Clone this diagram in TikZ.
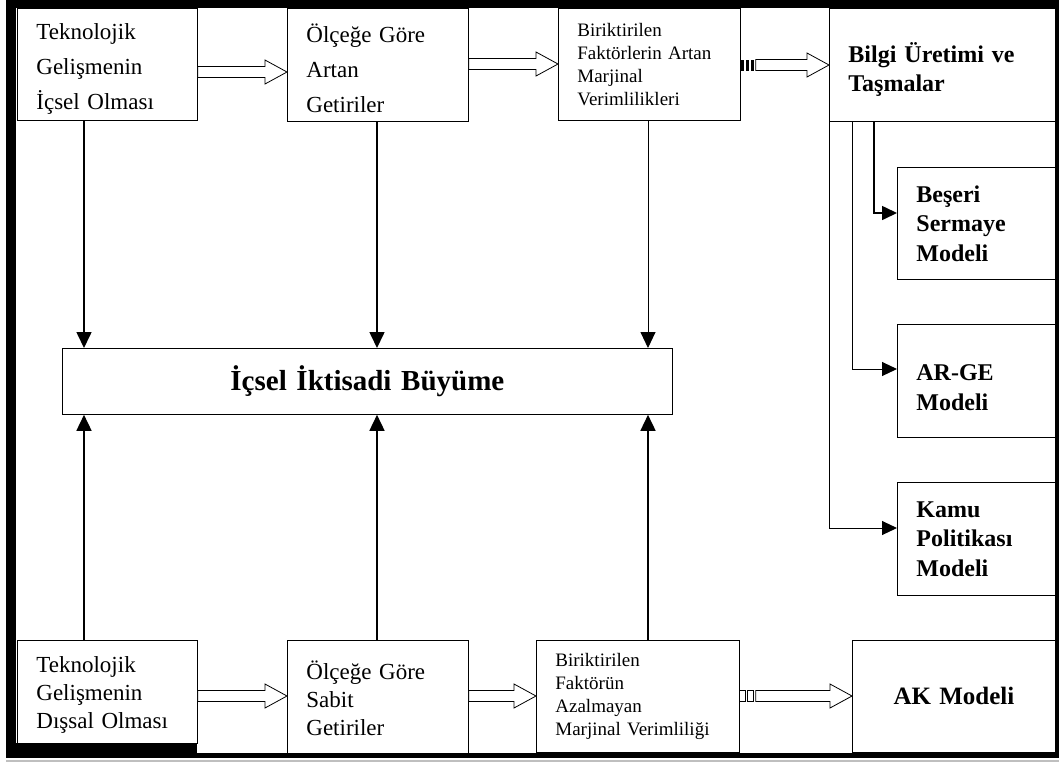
\documentclass[tikz,border=0pt]{standalone}
\usepackage{fontspec}
\setmainfont{Liberation Serif}
\usetikzlibrary{arrows.meta,calc}

\newcommand{\blockarrow}[4]{% from, to, y, tail
  \draw[hollow] let \p1=(#1.east |- 0,#3), \p2=(#2.west |- 0,#3) in
    (\x1+#4,\y1+5.5pt) -- (\x2-22pt,\y1+5.5pt) -- (\x2-22pt,\y1+12pt) -- (\x2,\y1)
    -- (\x2-22pt,\y1-12pt) -- (\x2-22pt,\y1-5.5pt) -- (\x1+#4,\y1-5.5pt) -- cycle;}

\begin{document}
\begin{tikzpicture}[x=1pt,y=-1pt,
    box/.style={draw, fill=white, line width=.8pt, anchor=north west,
      inner xsep=19pt, inner ysep=0pt, align=left},
    plain/.style={font=\fontsize{23}{35}\selectfont, text height=26pt},
    plainlow/.style={font=\fontsize{23}{28}\selectfont, text height=22pt},
    small/.style={font=\fontsize{19}{23}\selectfont},
    heavy/.style={font=\bfseries\fontsize{24}{29.5}\selectfont},
    hollow/.style={draw, fill=white, line width=.8pt},
    vline/.style={line width=1.6pt, -{Triangle[length=16pt,width=15pt]}},
    elbow/.style={line width=1pt, -{Triangle[length=15pt,width=14pt]}}]
  \useasboundingbox (0,0) rectangle (1059,764);
  % frame
  \fill (6,0) rectangle (1059,758);
  \fill[white] (16,8) rectangle (1055,753);
  \fill (16,743) rectangle (197,753);
  \draw[gray!50, line width=2pt] (6,761) -- (1059,761);

  % top row
  \node[box, plain, text width=142pt, minimum height=112pt] (tA) at (17,8)
    {Teknolojik\\Gelişmenin\\İçsel Olması};
  \node[box, plain, text width=143pt, minimum height=113pt] (tB) at (287,8)
    {Ölçeğe Göre\\Artan\\Getiriler};
  \node[box, small, text width=144pt, minimum height=112pt] (tC) at (558,8)
    {Biriktirilen\\Faktörlerin~Artan\\Marjinal\\Verimlilikleri};
  \node[box, heavy, text width=188pt, minimum height=113pt] (bilgi) at (829,8)
    {~\\Bilgi Üretimi ve\\Taşmalar};

  % models on the right
  \node[box, heavy, text width=120pt, minimum height=112pt] (besr) at (897,167)
    {Beşeri\\Sermaye\\Modeli};
  \node[box, heavy, text width=120pt, minimum height=113pt] (arge) at (897,324)
    {~\\AR-GE\\Modeli};
  \node[box, heavy, text width=120pt, minimum height=113pt] (kamu) at (897,482)
    {Kamu\\Politikası\\Modeli};

  % centre
  \node[box, align=center, font=\bfseries\fontsize{29}{34}\selectfont,
    text width=572pt, minimum height=66pt] (core) at (62,348)
    {İçsel İktisadi Büyüme};

  % bottom row
  \node[box, plainlow, text width=142pt, minimum height=103pt] (bA) at (17,640)
    {Teknolojik\\Gelişmenin\\Dışsal Olması};
  \node[box, plainlow, text width=143pt, minimum height=113pt] (bB) at (287,640)
    {Ölçeğe Göre\\Sabit\\Getiriler};
  \node[box, small, text width=165pt, minimum height=112pt] (bC) at (536,640)
    {Biriktirilen\\Faktörün\\Azalmayan\\Marjinal~Verimliliği};
  \node[box, align=center, font=\bfseries\fontsize{25}{30}\selectfont,
    text width=165pt, minimum height=112pt] (bD) at (852,640) {AK Modeli};

  % block arrows
  \blockarrow{tA}{tB}{72}{0pt}
  \blockarrow{tB}{tC}{64}{0pt}
  \foreach \s in {0,5,10}
    \fill ($(tC.east |- 0,65)+(\s,-5.5)$) rectangle +(3,11);
  \blockarrow{tC}{bilgi}{65}{15pt}
  \blockarrow{bA}{bB}{696}{0pt}
  \blockarrow{bB}{bC}{696}{0pt}
  \foreach \s in {0,8}
    \draw[line width=.8pt] ($(bC.east |- 0,696)+(\s,-5.5)$) rectangle +(6,11);
  \blockarrow{bC}{bD}{696}{16pt}

  % into the centre
  \foreach \n/\x in {tA/84, tB/377}
    \draw[vline] (\n.south -| \x,0) -- (core.north -| \x,0);
  \draw[vline, line width=.9pt] (tC.south -| 648,0) -- (core.north -| 648,0);
  \foreach \n/\x in {bA/84, bB/377, bC/648}
    \draw[vline] (\n.north -| \x,0) -- (core.south -| \x,0);

  % knowledge spillovers to models
  \draw[elbow, line width=1.6pt] (bilgi.south -| 874,0) |- (besr.west |- 0,213);
  \draw[elbow] (bilgi.south -| 852,0) |- (arge.west |- 0,369);
  \draw[elbow] (bilgi.south -| 829,0) |- (kamu.west |- 0,528);
\end{tikzpicture}
\end{document}
